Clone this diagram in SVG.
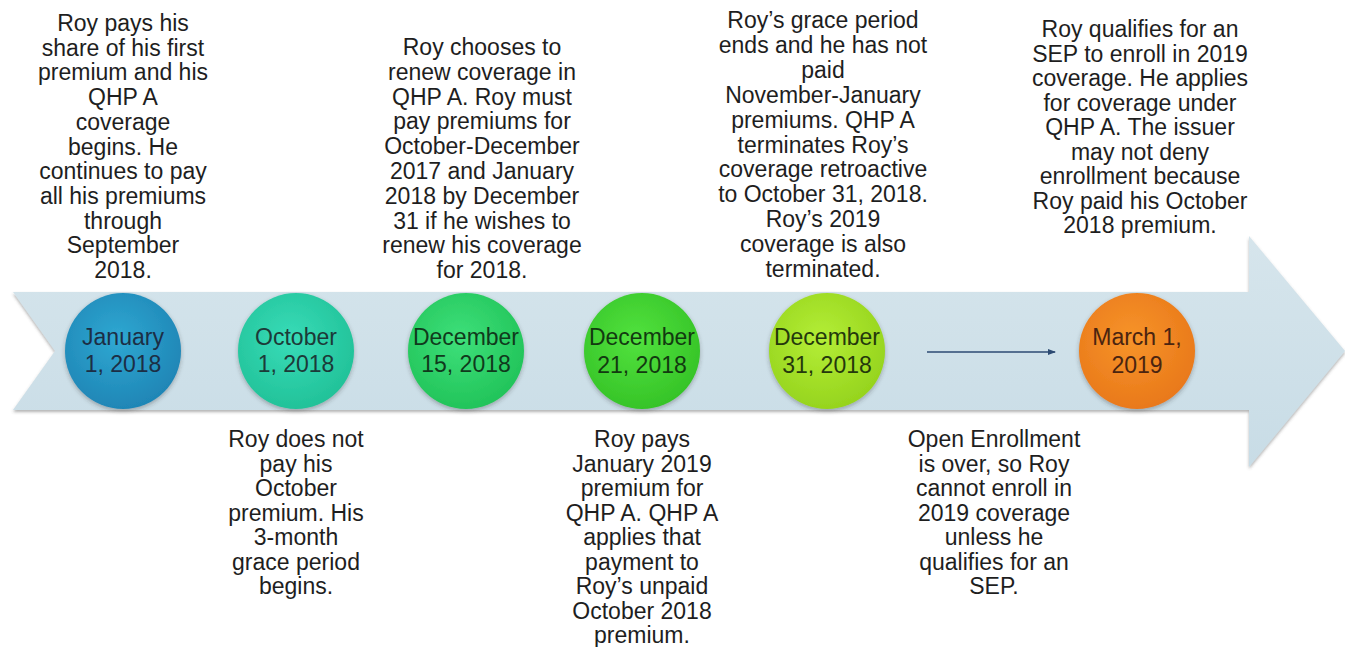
<svg xmlns="http://www.w3.org/2000/svg" width="1345" height="647" viewBox="0 0 1345 647">
<defs>
<linearGradient id="band" x1="0" y1="0" x2="0" y2="1">
<stop offset="0" stop-color="#d6e5ec"/>
<stop offset="1" stop-color="#c8dce6"/>
</linearGradient>
<filter id="sh" x="-10%" y="-10%" width="120%" height="130%">
<feDropShadow dx="0" dy="2" stdDeviation="1.5" flood-color="#555" flood-opacity="0.45"/>
</filter>
<filter id="csh" x="-20%" y="-20%" width="140%" height="140%">
<feDropShadow dx="0" dy="2" stdDeviation="2" flood-color="#333" flood-opacity="0.35"/>
</filter>
<radialGradient id="gJan" cx="0.45" cy="0.4" r="0.6"><stop offset="0" stop-color="#2fa8d2"/><stop offset="1" stop-color="#1f86b6"/></radialGradient>
<radialGradient id="gOct" cx="0.45" cy="0.4" r="0.6"><stop offset="0" stop-color="#38dcb8"/><stop offset="1" stop-color="#22c299"/></radialGradient>
<radialGradient id="gD15" cx="0.45" cy="0.4" r="0.6"><stop offset="0" stop-color="#3ee07a"/><stop offset="1" stop-color="#22c45a"/></radialGradient>
<radialGradient id="gD21" cx="0.45" cy="0.4" r="0.6"><stop offset="0" stop-color="#52e23e"/><stop offset="1" stop-color="#36c428"/></radialGradient>
<radialGradient id="gD31" cx="0.45" cy="0.4" r="0.6"><stop offset="0" stop-color="#b4ee36"/><stop offset="1" stop-color="#96d41e"/></radialGradient>
<radialGradient id="gMar" cx="0.45" cy="0.4" r="0.6"><stop offset="0" stop-color="#f7942a"/><stop offset="1" stop-color="#e9791a"/></radialGradient>
<marker id="ah" markerWidth="8" markerHeight="6" refX="7" refY="3" orient="auto" markerUnits="userSpaceOnUse">
<path d="M0,0 L8,3 L0,6 Z" fill="#2c4a72"/>
</marker>
</defs>
<style>
.t{font-family:"Liberation Sans",Arial,sans-serif;font-size:23px;fill:#1e1e1e;text-anchor:middle}
.c{font-family:"Liberation Sans",Arial,sans-serif;font-size:23px;text-anchor:middle}
</style>
<rect width="1345" height="647" fill="#ffffff"/>
<g id="timeline-arrow">
<polygon points="13,292 1249,292 1249,236 1345,351 1249,467 1249,410 13,410 55,351" fill="url(#band)" filter="url(#sh)"/>
</g>
<g id="connectors">
<line x1="927" y1="352" x2="1055" y2="352" stroke="#2c4a72" stroke-width="1.5" marker-end="url(#ah)"/>
</g>
<g id="node-jan">
<circle cx="123" cy="351" r="58" fill="url(#gJan)" filter="url(#csh)"/>
<text class="c" fill="#1c2e45"><tspan x="123" y="345">January</tspan><tspan x="123" y="372">1, 2018</tspan></text>
</g>
<g id="node-oct">
<circle cx="296" cy="351" r="58" fill="url(#gOct)" filter="url(#csh)"/>
<text class="c" fill="#1c3a38"><tspan x="296" y="345">October</tspan><tspan x="296" y="372">1, 2018</tspan></text>
</g>
<g id="node-dec15">
<circle cx="466" cy="351" r="58" fill="url(#gD15)" filter="url(#csh)"/>
<text class="c" fill="#103a1c"><tspan x="466" y="345">December</tspan><tspan x="466" y="372">15, 2018</tspan></text>
</g>
<g id="node-dec21">
<circle cx="642" cy="351" r="58" fill="url(#gD21)" filter="url(#csh)"/>
<text class="c" fill="#123a10"><tspan x="642" y="345">December</tspan><tspan x="642" y="373">21, 2018</tspan></text>
</g>
<g id="node-dec31">
<circle cx="827" cy="351" r="58" fill="url(#gD31)" filter="url(#csh)"/>
<text class="c" fill="#24380c"><tspan x="827" y="345">December</tspan><tspan x="827" y="373">31, 2018</tspan></text>
</g>
<g id="node-mar">
<circle cx="1137" cy="351" r="58" fill="url(#gMar)" filter="url(#csh)"/>
<text class="c" fill="#4a2410"><tspan x="1137" y="345">March 1,</tspan><tspan x="1137" y="373">2019</tspan></text>
</g>
<g id="note-jan">
<text class="t"><tspan x="123" y="31">Roy pays his</tspan><tspan x="123" y="55.7">share of his first</tspan><tspan x="123" y="80.4">premium and his</tspan><tspan x="123" y="105.1">QHP A</tspan><tspan x="123" y="129.8">coverage</tspan><tspan x="123" y="154.5">begins. He</tspan><tspan x="123" y="179.2">continues to pay</tspan><tspan x="123" y="203.9">all his premiums</tspan><tspan x="123" y="228.6">through</tspan><tspan x="123" y="253.3">September</tspan><tspan x="123" y="278">2018.</tspan></text>
</g>
<g id="note-dec15">
<text class="t"><tspan x="482" y="55">Roy chooses to</tspan><tspan x="482" y="79.8">renew coverage in</tspan><tspan x="482" y="104.6">QHP A. Roy must</tspan><tspan x="482" y="129.4">pay premiums for</tspan><tspan x="482" y="154.2">October-December</tspan><tspan x="482" y="179">2017 and January</tspan><tspan x="482" y="203.8">2018 by December</tspan><tspan x="482" y="228.6">31 if he wishes to</tspan><tspan x="482" y="253.4">renew his coverage</tspan><tspan x="482" y="278.2">for 2018.</tspan></text>
</g>
<g id="note-dec31">
<text class="t"><tspan x="823" y="28">Roy’s grace period</tspan><tspan x="823" y="52.9">ends and he has not</tspan><tspan x="823" y="77.8">paid</tspan><tspan x="823" y="102.7">November-January</tspan><tspan x="823" y="127.6">premiums. QHP A</tspan><tspan x="823" y="152.5">terminates Roy’s</tspan><tspan x="823" y="177.4">coverage retroactive</tspan><tspan x="823" y="202.3">to October 31, 2018.</tspan><tspan x="823" y="227.2">Roy’s 2019</tspan><tspan x="823" y="252.1">coverage is also</tspan><tspan x="823" y="277">terminated.</tspan></text>
</g>
<g id="note-mar">
<text class="t"><tspan x="1140" y="37">Roy qualifies for an</tspan><tspan x="1140" y="61.5">SEP to enroll in 2019</tspan><tspan x="1140" y="86">coverage. He applies</tspan><tspan x="1140" y="110.5">for coverage under</tspan><tspan x="1140" y="135">QHP A. The issuer</tspan><tspan x="1140" y="159.5">may not deny</tspan><tspan x="1140" y="184">enrollment because</tspan><tspan x="1140" y="208.5">Roy paid his October</tspan><tspan x="1140" y="233">2018 premium.</tspan></text>
</g>
<g id="note-oct">
<text class="t"><tspan x="296" y="447">Roy does not</tspan><tspan x="296" y="471.5">pay his</tspan><tspan x="296" y="496">October</tspan><tspan x="296" y="520.5">premium. His</tspan><tspan x="296" y="545">3-month</tspan><tspan x="296" y="569.5">grace period</tspan><tspan x="296" y="594">begins.</tspan></text>
</g>
<g id="note-dec21">
<text class="t"><tspan x="642" y="447">Roy pays</tspan><tspan x="642" y="471.5">January 2019</tspan><tspan x="642" y="496">premium for</tspan><tspan x="642" y="520.5">QHP A. QHP A</tspan><tspan x="642" y="545">applies that</tspan><tspan x="642" y="569.5">payment to</tspan><tspan x="642" y="594">Roy’s unpaid</tspan><tspan x="642" y="618.5">October 2018</tspan><tspan x="642" y="643">premium.</tspan></text>
</g>
<g id="note-open">
<text class="t"><tspan x="994" y="447">Open Enrollment</tspan><tspan x="994" y="471.5">is over, so Roy</tspan><tspan x="994" y="496">cannot enroll in</tspan><tspan x="994" y="520.5">2019 coverage</tspan><tspan x="994" y="545">unless he</tspan><tspan x="994" y="569.5">qualifies for an</tspan><tspan x="994" y="594">SEP.</tspan></text>
</g>
</svg>
